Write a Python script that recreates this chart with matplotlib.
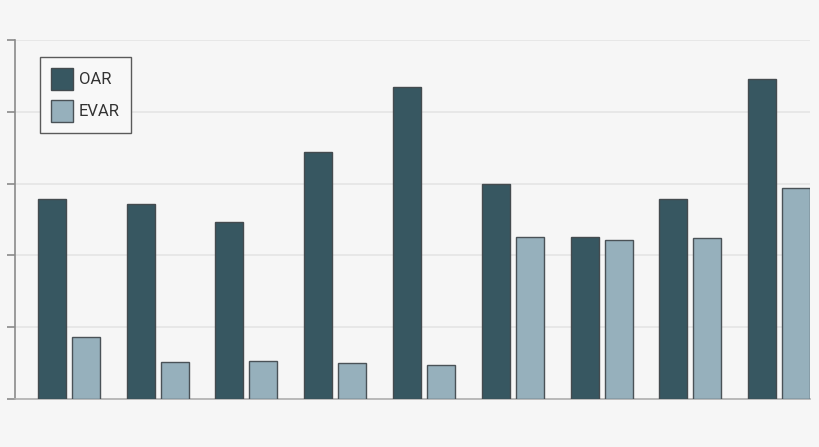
import matplotlib
matplotlib.use("Agg")
import matplotlib.pyplot as plt
import numpy as np

plt.rcParams['font.family'] = ['Roboto', 'DejaVu Sans']

groups = ["1", "2", "3", "4", "5", "6", "7", "8", "9"]
oar = [2.78, 2.71, 2.46, 3.44, 4.35, 3.00, 2.25, 2.78, 4.45]
evar = [0.86, 0.51, 0.53, 0.50, 0.47, 2.25, 2.21, 2.24, 2.94]
series_names = ["OAR", "EVAR"]
colors = ["#375761", "#96b0bc"]

W, H = 820, 447
fig = plt.figure(figsize=(W / 100, H / 100), dpi=100)
fig.patch.set_facecolor("#f6f6f6")
ax = fig.add_axes([15 / W, 1 - 399 / H, (810 - 15) / W, (399 - 40) / H])
ax.set_facecolor("#f6f6f6")

x = np.arange(len(groups))
bw = 0.3155
off = 0.1915
ax.bar(x - off, oar, bw, color=colors[0], edgecolor="#444b4f", linewidth=1.0, label=series_names[0], zorder=3)
ax.bar(x + off, evar, bw, color=colors[1], edgecolor="#4a5257", linewidth=1.0, label=series_names[1], zorder=3)

ax.set_xlim(-0.608, 8.349)
ax.set_ylim(0, 5)
ax.set_yticks([0, 1, 2, 3, 4, 5])
ax.set_yticklabels([])
ax.set_xticks([])
ax.yaxis.grid(True, color="#e4e4e4", linewidth=1.2, zorder=0)
for s in ["top", "right"]:
    ax.spines[s].set_visible(False)
ax.spines["left"].set_color("#8a8a8a")
ax.spines["left"].set_linewidth(1.2)
ax.spines["bottom"].set_color("#b0b0b0")
ax.spines["bottom"].set_linewidth(1.2)
ax.tick_params(axis="y", length=6, width=1.2, color="#8a8a8a", direction="out")

leg = ax.legend(loc="upper left", bbox_to_anchor=(25 / 795, 1 - 17 / 359), frameon=True,
                fancybox=False, fontsize=12, handlelength=1.32, handleheight=1.65,
                borderpad=0.66, labelspacing=0.6, handletextpad=0.34, borderaxespad=0)
leg.get_frame().set_edgecolor("#5a5a5a")
leg.get_frame().set_facecolor("#f8f8f8")
leg.get_frame().set_linewidth(1.0)
leg.get_frame().set_alpha(1)
for t in leg.get_texts():
    t.set_color("#333333")

fig.savefig("out.png", dpi=100, facecolor=fig.get_facecolor())
